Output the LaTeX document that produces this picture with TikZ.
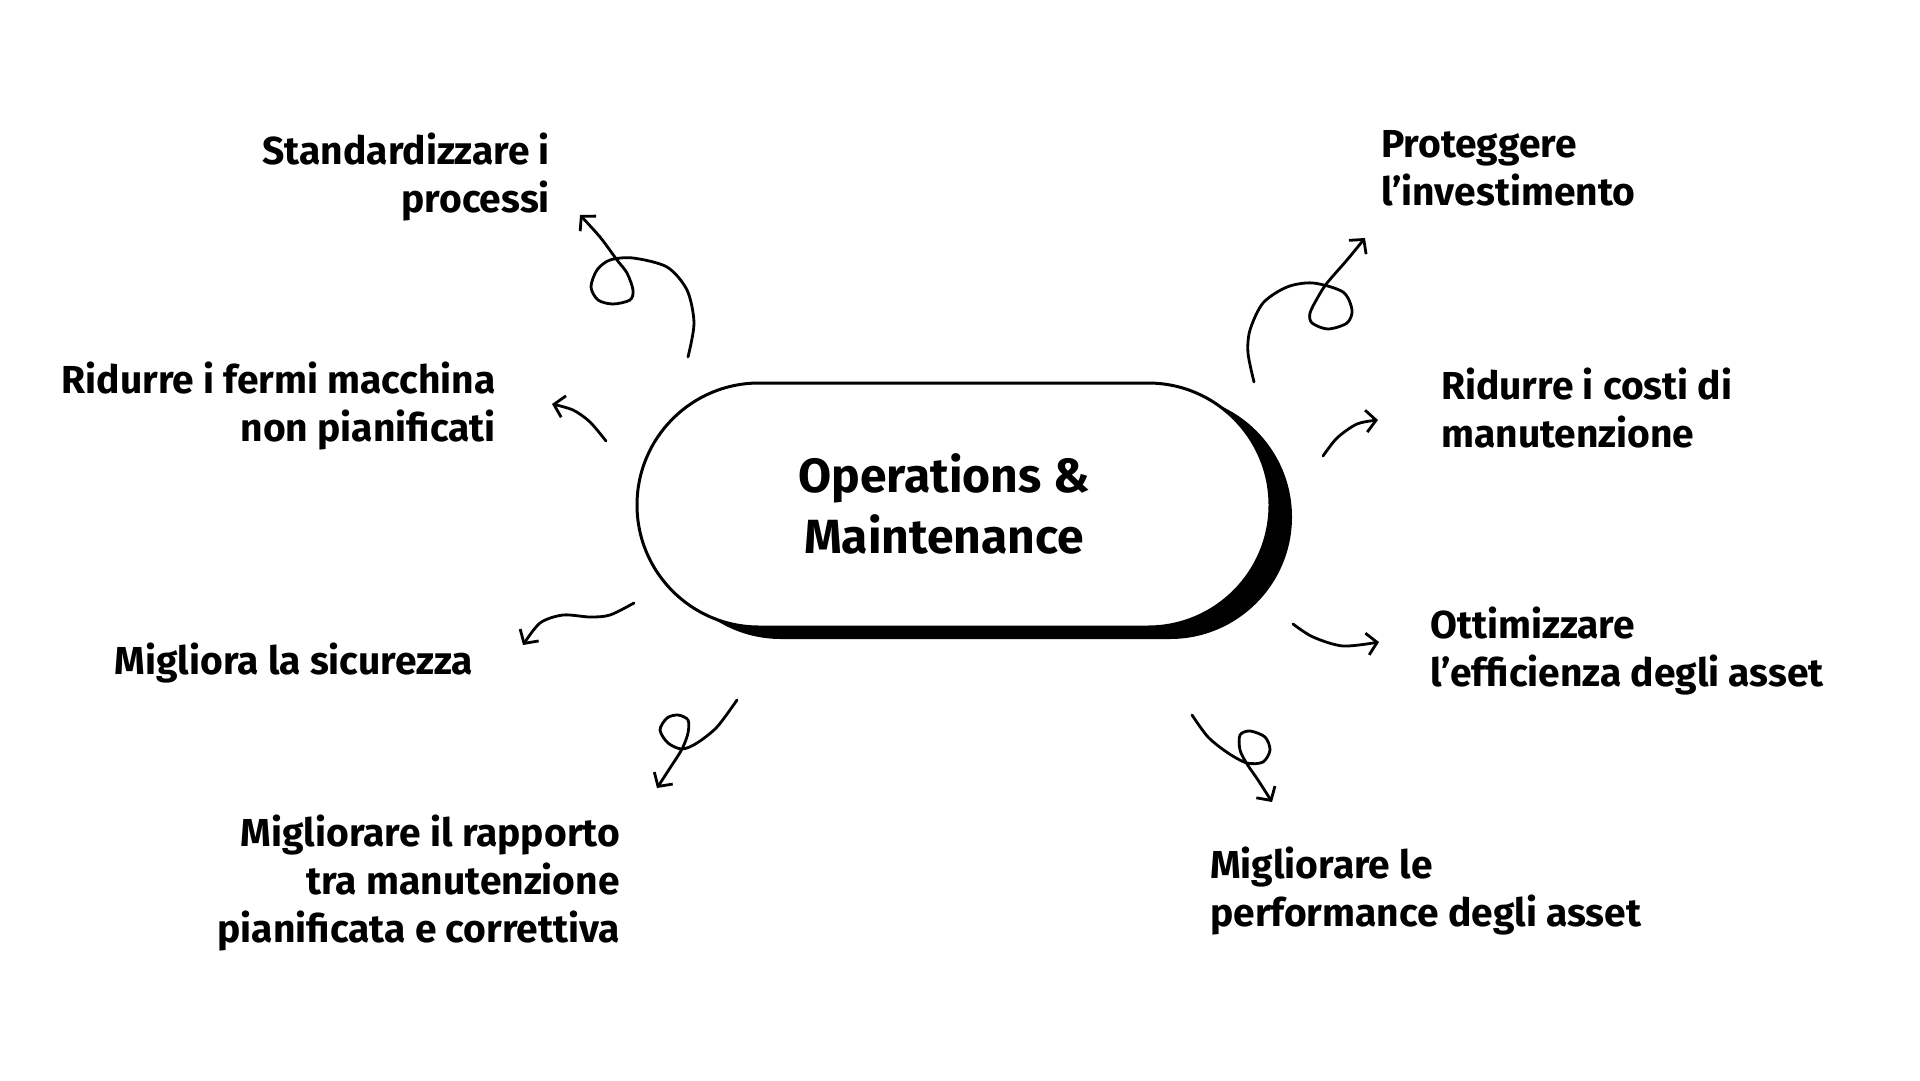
\documentclass[tikz,border=0pt]{standalone}
\usepackage{fontspec}
\setmainfont{Fira Sans}
\usetikzlibrary{arrows.meta,shapes.misc,shadows}
\begin{document}
\begin{tikzpicture}[x=1pt,y=-1pt,
  lbl/.style={font=\fontsize{39}{48}\selectfont\bfseries, inner sep=0pt},
  lblL/.style={lbl, align=left, anchor=base west},
  lblR/.style={lbl, align=right, anchor=base east},
  arr/.style={line width=2.8pt, line cap=round, line join=round,
    -{Straight Barb[length=10pt,width=22pt,line width=2.8pt]}},
  pill/.style={rounded rectangle, draw, line width=3pt, fill=white,
    minimum width=633pt, minimum height=244pt, inner sep=0pt,
    drop shadow={shadow xshift=22pt, shadow yshift=-12pt, fill=black, opacity=1}},
  title/.style={font=\fontsize{48}{61}\selectfont\bfseries, align=center, inner sep=0pt, anchor=base}]
\useasboundingbox[fill=white] (0,0) rectangle (1920,1080);

% central node
\node[pill] (om) at (953.5,505) {};
\node[title] (omt) at (944,553) {Operations \&\\Maintenance};

% labels (anchored at the baseline of the last line)
\node[lblR] (l1) at (550,212) {Standardizzare i\\processi};
\node[lblL] (l2) at (1381,205) {Proteggere\\l’investimento};
\node[lblR] (l3) at (496,441) {Ridurre i fermi macchina\\non pianificati};
\node[lblL] (l4) at (1441,447) {Ridurre i costi di\\manutenzione};
\node[lblR] (l5) at (473,674) {Migliora la sicurezza};
\node[lblL] (l6) at (1430,686) {Ottimizzare\\l’efficienza degli asset};
\node[lblR] (l7) at (620,942) {Migliorare il rapporto\\tra manutenzione\\pianificata e correttiva};
\node[lblL] (l8) at (1210,926) {Migliorare le\\performance degli asset};

% arrow end points
\coordinate (s1) at (688,357); \coordinate (e1) at (580,215);
\coordinate (s2) at (1254,382); \coordinate (e2) at (1365,238);
\coordinate (s3) at (606,441); \coordinate (e3) at (552,404);
\coordinate (s4) at (634,603); \coordinate (e4) at (523,645);
\coordinate (s5) at (1323,456); \coordinate (e5) at (1378,420);
\coordinate (s6) at (1293,624); \coordinate (e6) at (1379,642);
\coordinate (s7) at (737,700); \coordinate (e7) at (657,788);
\coordinate (s8) at (1192,715); \coordinate (e8) at (1272,802);

\draw[arr] plot[smooth] coordinates {(s1) (694,323) (687,290) (667,267) (633,258) (610,260) (597,270) (591,287) (598,300) (613,304) (630,300) (633,290) (627,273) (617,260) (600,237) (e1)};
\draw[arr] plot[smooth] coordinates {(s2) (1248,353) (1250,330) (1263,303) (1287,287) (1313,283) (1343,292) (1352,310) (1347,323) (1328,329) (1312,323) (1310,313) (1318,297) (1327,283) (1347,260) (e2)};
\draw[arr] plot[smooth] coordinates {(s3) (590,422) (573,410) (e3)};
\draw[arr] plot[smooth] coordinates {(s4) (610,615) (590,617) (563,615) (540,623) (e4)};
\draw[arr] plot[smooth] coordinates {(s5) (1337,438) (1357,424) (e5)};
\draw[arr] plot[smooth] coordinates {(s6) (1313,637) (1343,646) (e6)};
\draw[arr] plot[smooth] coordinates {(s7) (717,727) (697,743) (682,749) (668,743) (660,730) (667,718) (678,715) (688,720) (688,733) (682,749) (670,768) (e7)};
\draw[arr] plot[smooth] coordinates {(s8) (1208,737) (1228,753) (1247,763) (1263,762) (1270,750) (1265,737) (1250,731) (1240,735) (1240,750) (1247,764) (1258,780) (e8)};
\end{tikzpicture}
\end{document}
